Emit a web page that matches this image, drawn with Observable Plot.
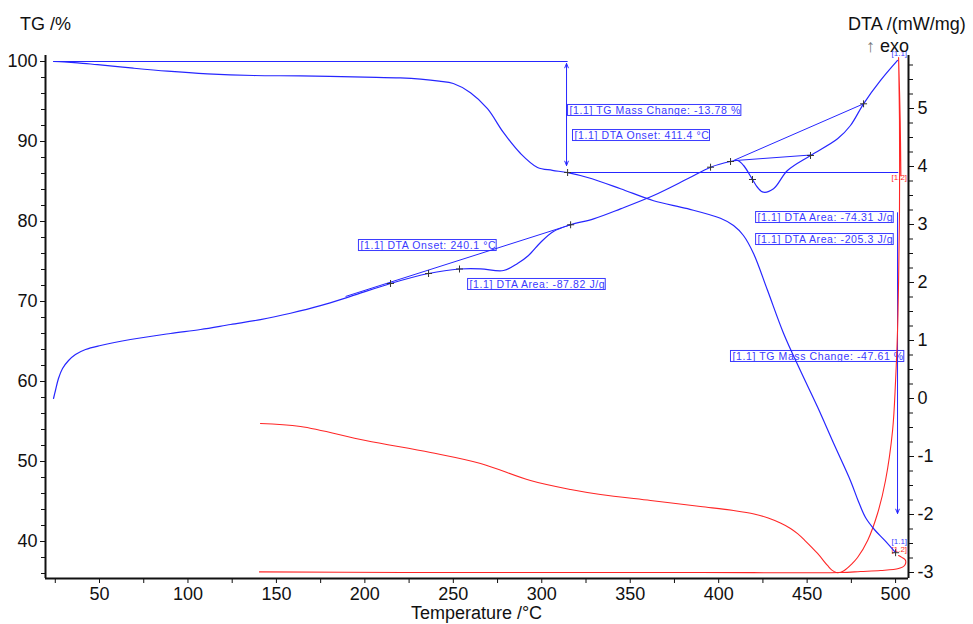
<!DOCTYPE html>
<html><head><meta charset="utf-8">
<script src="https://cdn.jsdelivr.net/npm/d3@7"></script>
<script src="https://cdn.jsdelivr.net/npm/@observablehq/plot@0.6"></script>
<style>body{margin:0;background:#fff;} svg{display:block}</style>
</head><body><div id="chart"></div>
<script>
// ---------- data ----------
// TG curve (blue) : temperature °C, mass %
const tgT = [24.0,30,37.6,48.9,69.2,88.4,111,137,163.6,200,220,231.5,242,250,259.7,269.3,278.4,288,297.6,306,314.6,325.9,344.5,363.2,382.4,401,408.4,414,419.7,427.6,436.7,446.3,455.9,464.9,474.5,479,483,488,494,500];
const tgV = [100,99.95,99.84,99.6,99.16,98.79,98.46,98.25,98.2,98.05,97.95,97.8,97.55,97.25,96.1,94.1,91.1,88.5,86.75,86.4,86.1,85.5,84.1,82.6,81.6,80.4,79.5,78.25,76,71.4,66,61.3,56.8,52.3,47.6,45.0,43.0,41.5,40.1,38.6];
// DTA curve [1.1] (blue) : mW/mg
const dtaT = [24.0,25.1,26.8,29.1,32.5,36.4,42.1,50.6,67.5,90.1,107.1,124.1,141,158,174.9,191.9,214.5,236,253.5,265.4,278.4,286.3,292.5,299.3,306.6,316.3,329.3,344.5,363.2,382.4,395.4,406.7,410.7,414.1,419.1,422,425.3,431,438.9,451.9,467.2,474.5,481.9,491.5,501.1];
const dtaV = [0,0.138,0.345,0.517,0.655,0.759,0.845,0.914,1.017,1.121,1.19,1.276,1.36,1.47,1.6,1.76,1.983,2.155,2.233,2.236,2.207,2.328,2.466,2.69,2.879,2.995,3.098,3.27,3.5,3.788,3.988,4.086,4.103,4.017,3.776,3.638,3.557,3.616,3.931,4.19,4.478,4.707,5.081,5.483,5.828];
// segment [1.2] (red), upper branch : mW/mg
const redAT = [141.0,163.6,200.4,237.1,265.4,293.6,316.3,333.2,361.5,389.7,408.4,420,428,434.9,440.6,444.6,448.5,455.9,461.5,464,466.5,469,471,475,478.5,484.2,489.8,494.3,498.3,500.0,501.1,501.7,502.2,502.2,501.7,502.6,503.0];
const redAV = [-0.431,-0.483,-0.724,-0.931,-1.121,-1.414,-1.569,-1.655,-1.759,-1.862,-1.931,-1.99,-2.06,-2.147,-2.24,-2.33,-2.44,-2.672,-2.879,-2.96,-3.0,-2.995,-2.966,-2.86,-2.741,-2.448,-1.983,-1.414,-0.552,0.31,1.172,2.034,3.19,4.79,5.88,4.8,3.84];
// segment [1.2] (red), lower branch : mW/mg
const redBT = [140.4,221.8,300,389.7,468.9,480.2,491.5,501.7,505.1,505.6,503.5,501.7];
const redBV = [-2.99,-3.0,-3.0,-3.0,-3.0,-2.983,-2.966,-2.931,-2.879,-2.79,-2.74,-2.707];

// evaluation markers
const dtaMarkT = [214.5,236,253.5,316.3,395.4,406.7,419.1,451.9,481.9];
const dtaMarkV = [1.983,2.155,2.233,2.995,3.988,4.086,3.776,4.19,5.081];
const tgMarkT = [314.6,500];
const tgMarkV = [86.125,38.6];

// DTA baselines / tangents (mW/mg)
const dtaLineT1 = [189.1,408.4,409.5];
const dtaLineV1 = [1.759,4.103,4.103];
const dtaLineT2 = [316.3,481.9,451.9];
const dtaLineV2 = [2.995,5.081,4.198];
// TG reference levels (%)
const tgLineT1 = [24.0,314.6];
const tgLineT2 = [314.6,501.5];
const tgLineV = [100,86.125];
// mass-change arrows (%)
const arrowT = [314.0,314.0,501.1];
const arrowFrom = [93.4,93.4,81.1];
const arrowTo = [99.75,87.0,43.5];

// evaluation labels
const annotText = ["[1.1] TG Mass Change: -13.78 %","[1.1] DTA Onset: 411.4 °C","[1.1] DTA Onset: 240.1 °C","[1.1] DTA Area: -87.82 J/g","[1.1] DTA Area: -74.31 J/g","[1.1] DTA Area: -205.3 J/g","[1.1] TG Mass Change: -47.61 %"];
const annotT = [315.7,318.5,197.5,259.2,422.0,422.0,407.8];
const annotV = [93.44,90.31,76.56,71.69,80.06,77.31,62.69];
const segText = ["[1.1]","[1.2]","[1.1]","[1.2]"];
const segT = [497.7,497.7,497.7,497.7];
const segV = [100.75,85.25,39.75,38.75];
const segColor = ["blue","red","blue","red"];

// axes ticks
const xMajor = [50,100,150,200,250,300,350,400,450,500];
const xMinor = [25,75,125,175,225,275,325,375,425,475];
const tgMajor = [40,50,60,70,80,90,100];
const tgMinor = d3.range(36,101,2).filter(v => v % 10 !== 0);
const dtaMajor = [-3,-2,-1,0,1,2,3,4,5];
const dtaMinor = d3.range(-3,5.76,0.25).filter(v => Math.abs(v - Math.round(v)) > 1e-6);

// ---------- scales ----------
const T0 = 19.47, T1 = 507.3, TGmin = 35.375, TGmax = 100.75;
const toTG = d => 57.875 + 7.25 * d;       // DTA value -> position on TG scale
const fromTG = v => (v - 57.875) / 7.25;

const BLUE = "#2626ff", RED = "#ff2626", LBLUE = "#3a3aff";
const plusSym = {draw(ctx, size) { const r = Math.sqrt(size / Math.PI); ctx.moveTo(-r, 0); ctx.lineTo(r, 0); ctx.moveTo(0, -r); ctx.lineTo(0, r); }};
const idx = a => a.map((_, i) => i);

const plot = Plot.plot({
  width: 973, height: 624,
  marginLeft: 45, marginRight: 65, marginTop: 55, marginBottom: 46,
  x: {domain: [T0, T1]},
  y: {domain: [TGmin, TGmax]},
  style: {fontFamily: "'Liberation Sans', Arial, sans-serif", fontSize: "18px", color: "#111", background: "#fff", overflow: "visible"},
  marks: [
    Plot.text(annotText, {x: annotT, y: annotV, text: d => d, textAnchor: "start", lineAnchor: "bottom", fontSize: 10.5, fill: LBLUE}),
    Plot.text(segText, {x: segT, y: segV, text: d => d, textAnchor: "start", lineAnchor: "bottom", fontSize: 8, fill: (d, i) => segColor[i] === "red" ? RED : LBLUE}),
    Plot.axisX({ticks: xMajor, tickSize: 5, tickPadding: 4, label: null, tickFormat: d => String(d)}),
    Plot.axisX({ticks: xMinor, tickSize: 5, label: null, tickFormat: () => ""}),
    Plot.axisY({ticks: tgMajor, anchor: "left", tickSize: 5, tickPadding: 3, label: null, tickFormat: d => String(d)}),
    Plot.axisY({ticks: tgMinor, anchor: "left", tickSize: 4, label: null, tickFormat: () => ""}),
    Plot.axisY({ticks: dtaMajor.map(toTG), anchor: "right", tickSize: 5, tickPadding: 4, label: null, tickFormat: d => String(Math.round(fromTG(d)))}),
    Plot.axisY({ticks: dtaMinor.map(toTG), anchor: "right", tickSize: 4, label: null, tickFormat: () => ""}),
    Plot.ruleX([T0, T1], {y1: TGmin, y2: TGmax, stroke: "#111", strokeWidth: 2}),
    Plot.ruleY([TGmin], {x1: T0, x2: T1, stroke: "#111", strokeWidth: 2}),
    Plot.link(idx(tgLineT1), {x1: tgLineT1, x2: tgLineT2, y1: tgLineV, y2: tgLineV, stroke: BLUE, strokeWidth: 1}),
    Plot.link(idx(dtaLineT1), {x1: dtaLineT1, x2: dtaLineT2, y1: dtaLineV1.map(toTG), y2: dtaLineV2.map(toTG), stroke: BLUE, strokeWidth: 1}),
    Plot.arrow(idx(arrowT), {x1: arrowT, x2: arrowT, y1: arrowFrom, y2: arrowTo, bend: 0, headLength: 7, headAngle: 45, stroke: BLUE, strokeWidth: 1}),
    Plot.line(redAT, {x: redAT, y: redAV.map(toTG), stroke: RED, strokeWidth: 1.1, curve: "catmull-rom"}),
    Plot.line(redBT, {x: redBT, y: redBV.map(toTG), stroke: RED, strokeWidth: 1.1, curve: "catmull-rom"}),
    Plot.line(tgT, {x: tgT, y: tgV, stroke: BLUE, strokeWidth: 1.2, curve: "catmull-rom"}),
    Plot.line(dtaT, {x: dtaT, y: dtaV.map(toTG), stroke: BLUE, strokeWidth: 1.2, curve: "catmull-rom"}),
    Plot.dot(dtaMarkT, {x: dtaMarkT, y: dtaMarkV.map(toTG), symbol: plusSym, r: 3.5, stroke: "#333", fill: "none", strokeWidth: 1}),
    Plot.dot(tgMarkT, {x: tgMarkT, y: tgMarkV, symbol: plusSym, r: 3.5, stroke: "#333", fill: "none", strokeWidth: 1})
  ]
});
document.getElementById("chart").appendChild(plot);

// label boxes around evaluation texts
const svg = d3.select(plot);
const annotG = plot.querySelectorAll('g[aria-label="text"]')[0];
annotG.style.letterSpacing = "0.6px";
Array.from(annotG.querySelectorAll("text")).forEach(t => {
  const bb = t.getBBox();
  const r = document.createElementNS("http://www.w3.org/2000/svg", "rect");
  r.setAttribute("x", bb.x - 2);
  r.setAttribute("y", bb.y + 0.5);
  r.setAttribute("width", bb.width + 2);
  r.setAttribute("height", bb.height - 1);
  r.setAttribute("fill", "none");
  r.setAttribute("stroke", LBLUE);
  r.setAttribute("stroke-width", 1);
  const tr = t.getAttribute("transform");
  if (tr) r.setAttribute("transform", tr);
  annotG.appendChild(r);
});

// titles
const ff = "'Liberation Sans', Arial, sans-serif";
const addText = (x, y, s, anchor) => svg.append("text").attr("x", x).attr("y", y).attr("text-anchor", anchor || "start")
  .attr("font-family", ff).attr("font-size", 18).attr("fill", "#111").text(s);
addText(20, 30, "TG /%");
addText(848, 30, "DTA /(mW/mg)");
const exo = addText(866, 52, "");
exo.append("tspan").attr("fill", "#777").text("↑");
exo.append("tspan").text(" exo");
addText(476.5, 619, "Temperature /°C", "middle");
</script>
</body></html>
